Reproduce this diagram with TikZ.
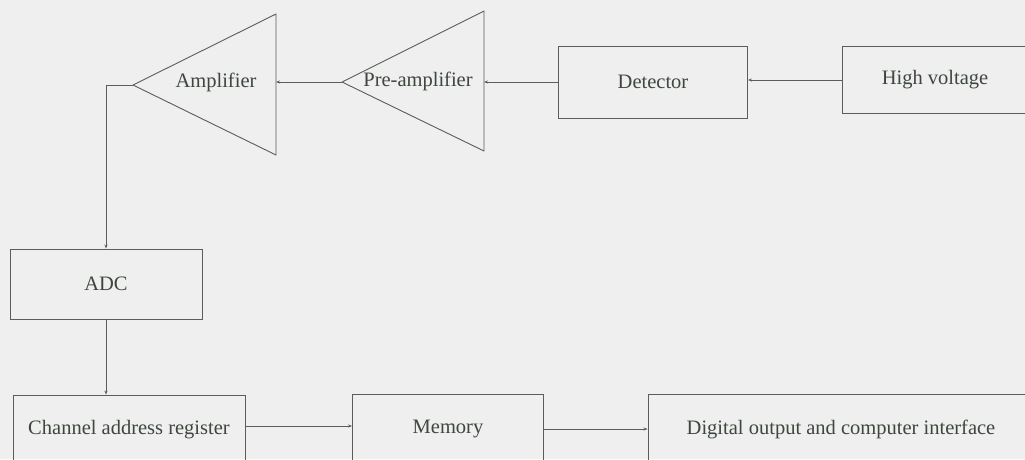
\documentclass[tikz,border=0pt]{standalone}
\usepackage{fontspec}
\setmainfont{Liberation Serif}
\usepackage{xcolor}
\usetikzlibrary{arrows.meta,positioning,calc}
\definecolor{paper}{RGB}{238,239,238}
\definecolor{ink}{RGB}{88,94,88}
\definecolor{txt}{RGB}{62,70,62}
\tikzstyle{arr}      =[-{Stealth[length=4pt,width=3pt]}, ink, line width=0.9pt]
\tikzstyle{blk}      =[draw=ink, line width=0.9pt, rectangle, inner sep=0pt, text=txt]
\tikzstyle{tri}      =[draw=ink, line width=0.9pt, line join=round]
\tikzstyle{lbl}      =[text=txt, inner sep=0pt]

\begin{document}
\begin{tikzpicture}[x=1pt, y=-1pt, every node/.style={font=\fontsize{20.5}{24}\selectfont}]

  % canvas
  \useasboundingbox (0,0) rectangle (1025,459);
  \fill[paper] (0,0) rectangle (1025,459);
  \clip (0,0) rectangle (1025,459);

  % amplifier stages (triangles pointing left)
  \coordinate (amp apex) at (133,85);
  \coordinate (amp base) at (276,84);
  \draw[tri] (amp apex) -- (276,14) -- (276,155) -- cycle;
  \node[lbl] (amp) at (216,82) {Amplifier};

  \coordinate (pre apex) at (342,82);
  \coordinate (pre base) at (484,82);
  \draw[tri] (pre apex) -- (484,11) -- (484,151) -- cycle;
  \node[lbl] (pre) at (418,81) {Pre-amplifier};

  % blocks
  \node[blk, minimum width=189, minimum height=72] (det) at (653,82) {Detector};
  \node[blk, minimum width=186, minimum height=67] (hv) at (935,80) {High voltage};
  \node[blk, minimum width=192, minimum height=70] (adc) at (106,284) {ADC};
  \node[blk, minimum width=232, minimum height=70] (chan) at (129,430) {Channel address register};
  \node[blk, minimum width=191, minimum height=70] (mem) at (448,429) {Memory};
  \node[blk, minimum width=386, minimum height=70] (dig) at (841,429) {Digital output and computer interface};

  % signal chain, right to left along the top
  \draw[arr] (hv.west) -- (hv.west -| det.east);
  \draw[arr] (det.west) -- (det.west -| pre base);
  \draw[arr] (pre apex) -- (pre apex -| amp base);

  % down to the ADC and the memory row
  \draw[arr] (amp apex) -| (adc.north);
  \draw[arr] (adc.south) -- (adc.south |- chan.north);
  \draw[arr] ([yshift=4]chan.east) -- ([yshift=4]chan.east -| mem.west);
  \draw[arr] (mem.east) -- (dig.west);

\end{tikzpicture}
\end{document}
